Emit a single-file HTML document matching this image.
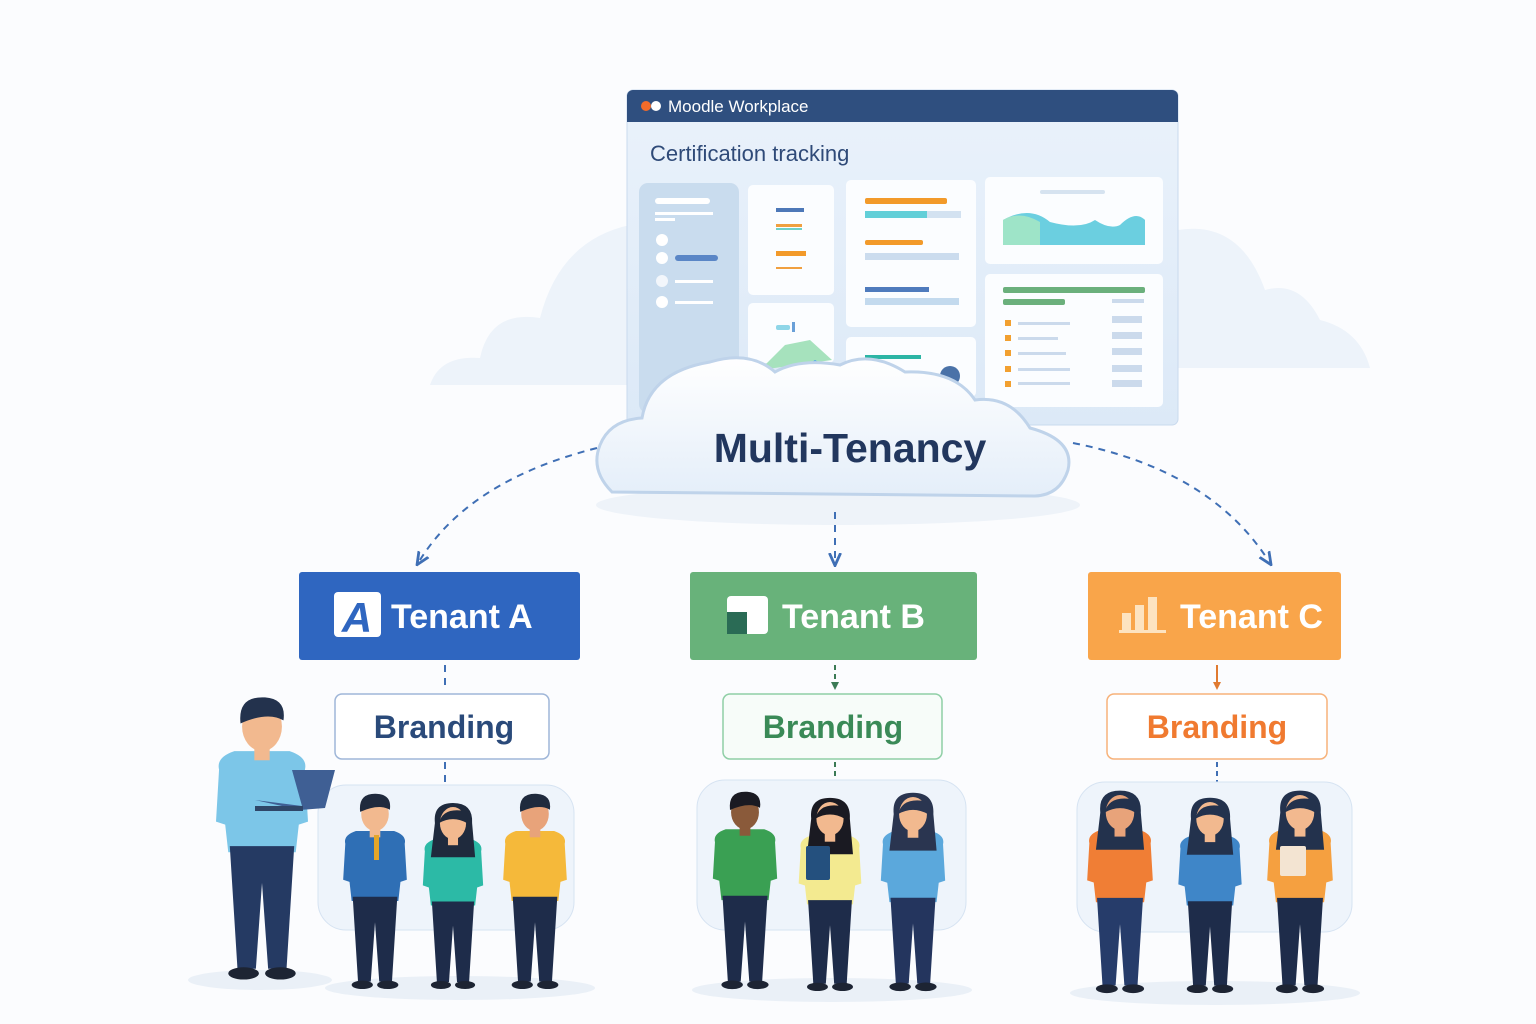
<!DOCTYPE html>
<html><head><meta charset="utf-8"><style>
html,body{margin:0;padding:0;background:#fbfcfe;}
svg{display:block;font-family:"Liberation Sans",sans-serif;}
</style></head><body>
<svg id="s" width="1536" height="1024" viewBox="0 0 1536 1024" xmlns="http://www.w3.org/2000/svg">
<defs>
<linearGradient id="cg" x1="0" y1="0" x2="0" y2="1"><stop offset="0" stop-color="#ffffff"/><stop offset="1" stop-color="#e4eef9"/></linearGradient>
<linearGradient id="bg2" x1="0" y1="0" x2="0" y2="1"><stop offset="0" stop-color="#eaf2fb"/><stop offset="1" stop-color="#dce9f7"/></linearGradient>
<marker id="ar" viewBox="0 0 10 10" refX="5" refY="5" markerWidth="7" markerHeight="7" orient="auto"><path d="M0,1 L9,5 L0,9" fill="none" stroke="#3f6fb5" stroke-width="2"/></marker>
<marker id="ag" viewBox="0 0 10 10" refX="5" refY="5" markerWidth="4" markerHeight="4" orient="auto"><path d="M0,0 L10,5 L0,10z" fill="#3b7a55"/></marker>
<marker id="ao" viewBox="0 0 10 10" refX="5" refY="5" markerWidth="4" markerHeight="4" orient="auto"><path d="M0,0 L10,5 L0,10z" fill="#e07a30"/></marker>
</defs>
<rect width="1536" height="1024" fill="#fbfcfe"/>
<!-- background clouds -->
<path d="M430,385 Q440,355 480,358 Q490,310 540,318 Q560,240 630,225 L630,385Z" fill="#edf3fa"/>
<path d="M1178,230 Q1240,220 1265,290 Q1300,280 1320,320 Q1360,330 1370,368 L1178,368Z" fill="#edf3fa"/>
<!-- dashboard -->
<rect x="627" y="90" width="551" height="335" rx="6" fill="url(#bg2)" stroke="#c9daee"/>
<path d="M627,122 V96 a6,6 0 0 1 6,-6 H1172 a6,6 0 0 1 6,6 V122Z" fill="#2f4f7f"/>
<circle cx="646" cy="106" r="5" fill="#f26b2a"/><circle cx="656" cy="106" r="5" fill="#fff"/>
<text x="668" y="112" fill="#fff" font-size="17">Moodle Workplace</text>
<text x="650" y="161" fill="#2f4a78" font-size="22">Certification tracking</text>
<rect x="639" y="183" width="100" height="230" rx="9" fill="#c9dcee"/>
<rect x="655" y="198" width="55" height="6" rx="3" fill="#fff"/><rect x="655" y="212" width="58" height="3" fill="#fff"/><rect x="655" y="218" width="20" height="3" fill="#fff"/>
<circle cx="662" cy="240" r="6" fill="#fff"/><circle cx="662" cy="258" r="6" fill="#fff"/><rect x="675" y="255" width="43" height="6" rx="3" fill="#5a86c6"/>
<circle cx="662" cy="281" r="6" fill="#f2f6fb"/><rect x="675" y="280" width="38" height="3" fill="#fff"/>
<circle cx="662" cy="302" r="6" fill="#fff"/><rect x="675" y="301" width="38" height="3" fill="#fff"/>
<rect x="748" y="185" width="86" height="110" rx="5" fill="#fbfdff"/>
<rect x="776" y="208" width="28" height="4" fill="#4d78b8"/><rect x="776" y="224" width="26" height="3" fill="#f0a040"/><rect x="776" y="228" width="26" height="2" fill="#6ed0c8"/>
<rect x="776" y="251" width="30" height="5" fill="#f29a2a"/><rect x="776" y="267" width="26" height="2" fill="#f0a040"/>
<rect x="748" y="303" width="86" height="60" rx="5" fill="#fbfdff"/>
<rect x="776" y="325" width="14" height="5" rx="2" fill="#8fd6e8"/><rect x="792" y="322" width="3" height="10" fill="#6aa0d8"/>
<path d="M760,370 L785,345 L810,340 L832,360Z" fill="#a6e2bd"/><path d="M770,375 L790,365 L800,370 L815,360 L832,370 L832,380 L775,380Z" fill="#4aa4ea"/>
<rect x="846" y="180" width="130" height="147" rx="5" fill="#fbfdff"/>
<rect x="865" y="198" width="82" height="6" rx="2" fill="#f29a2a"/><rect x="865" y="211" width="96" height="7" fill="#d3e2f1"/><rect x="865" y="211" width="62" height="7" fill="#62cfd8"/>
<rect x="865" y="240" width="58" height="5" rx="2" fill="#f29a2a"/><rect x="865" y="253" width="94" height="7" fill="#cbdcee"/>
<rect x="865" y="287" width="64" height="5" fill="#4f7bbd"/><rect x="865" y="298" width="94" height="7" fill="#c3daee"/>
<rect x="846" y="337" width="130" height="60" rx="5" fill="#fbfdff"/><rect x="865" y="355" width="56" height="4" fill="#2cb5a5"/>
<circle cx="950" cy="376" r="10" fill="#4a72a8"/>
<rect x="985" y="177" width="178" height="87" rx="5" fill="#fbfdff"/>
<path d="M1003,220 Q1030,205 1050,222 Q1080,230 1095,220 Q1110,230 1120,225 Q1135,210 1145,220 L1145,245 L1003,245Z" fill="#6bcfe0"/>
<path d="M1003,220 Q1020,210 1040,222 L1040,245 L1003,245Z" fill="#9ee4c8"/>
<rect x="1040" y="190" width="65" height="4" rx="2" fill="#d6e3f0"/>
<rect x="985" y="274" width="178" height="133" rx="5" fill="#fbfdff"/>
<rect x="1003" y="287" width="142" height="6" rx="2" fill="#6bb07c"/><rect x="1003" y="299" width="62" height="6" rx="2" fill="#6bb07c"/>
<g fill="#f2a030"><rect x="1005" y="320" width="6" height="6"/><rect x="1005" y="335" width="6" height="6"/><rect x="1005" y="350" width="6" height="6"/><rect x="1005" y="366" width="6" height="6"/><rect x="1005" y="381" width="6" height="6"/></g>
<g fill="#cbdaec"><rect x="1018" y="322" width="52" height="3"/><rect x="1018" y="337" width="40" height="3"/><rect x="1018" y="352" width="48" height="3"/><rect x="1018" y="368" width="52" height="3"/><rect x="1018" y="382" width="52" height="3"/>
<rect x="1112" y="299" width="32" height="4"/><rect x="1112" y="316" width="30" height="7"/><rect x="1112" y="332" width="30" height="7"/><rect x="1112" y="348" width="30" height="7"/><rect x="1112" y="365" width="30" height="7"/><rect x="1112" y="380" width="30" height="7"/></g>
<!-- main cloud -->
<ellipse cx="838" cy="505" rx="242" ry="20" fill="#eef3f9"/>
<path d="M612,492 Q590,470 600,445 Q610,420 642,418 Q650,372 710,362 Q750,350 775,372 Q800,358 840,365 Q870,350 905,372 Q955,370 975,400 Q1010,395 1030,428 Q1075,440 1068,470 Q1060,495 1035,496 Z" fill="url(#cg)" stroke="#bfd3ea" stroke-width="3"/>
<text x="850" y="462" text-anchor="middle" fill="#22375e" font-size="41" font-weight="bold">Multi-Tenancy</text>
<!-- connectors -->
<g fill="none" stroke="#3f6fb5" stroke-width="2" stroke-dasharray="7,6">
<path d="M597,448 Q470,480 420,560" marker-end="url(#ar)"/>
<path d="M1073,443 Q1210,470 1268,560" marker-end="url(#ar)"/>
<path d="M835,512 V560" marker-end="url(#ar)"/>
<path d="M445,665 V690"/><path d="M445,762 V788"/>
</g>
<path d="M835,665 V686" stroke="#3b7a55" stroke-width="2" stroke-dasharray="5,4" marker-end="url(#ag)"/>
<path d="M835,762 V788" stroke="#3b7a55" stroke-width="2" stroke-dasharray="5,4"/>
<path d="M1217,665 V686" stroke="#e07a30" stroke-width="2" marker-end="url(#ao)"/>
<path d="M1217,762 V788" stroke="#3f6fb5" stroke-width="2" stroke-dasharray="5,4"/>
<!-- tenants -->
<rect x="299" y="572" width="281" height="88" rx="3" fill="#2f66c0"/>
<rect x="334" y="592" width="47" height="45" rx="4" fill="#fff"/><text x="357" y="632" text-anchor="middle" fill="#2f66c0" font-size="42" font-weight="bold" font-style="italic">A</text>
<text x="391" y="628" fill="#fff" font-size="34" font-weight="bold">Tenant A</text>
<rect x="690" y="572" width="287" height="88" rx="3" fill="#68b27a"/>
<rect x="727" y="596" width="41" height="38" rx="4" fill="#fff"/><rect x="727" y="612" width="20" height="22" fill="#2a6b55"/>
<text x="782" y="628" fill="#fff" font-size="34" font-weight="bold">Tenant B</text>
<rect x="1088" y="572" width="253" height="88" rx="3" fill="#f9a54a"/>
<g fill="#fde3c0"><rect x="1122" y="613" width="9" height="18"/><rect x="1135" y="605" width="9" height="26"/><rect x="1148" y="597" width="9" height="34"/><rect x="1119" y="630" width="47" height="3"/></g>
<text x="1180" y="628" fill="#fff" font-size="34" font-weight="bold">Tenant C</text>
<!-- branding -->
<rect x="335" y="694" width="214" height="65" rx="7" fill="#fff" stroke="#9fb6d8" stroke-width="1.5"/>
<text x="444" y="738" text-anchor="middle" fill="#2a4a7a" font-size="32" font-weight="bold">Branding</text>
<rect x="723" y="694" width="219" height="65" rx="7" fill="#f7fcf9" stroke="#8fcfa6" stroke-width="1.5"/>
<text x="833" y="738" text-anchor="middle" fill="#3a8a57" font-size="32" font-weight="bold">Branding</text>
<rect x="1107" y="694" width="220" height="65" rx="7" fill="#fff" stroke="#f7b27a" stroke-width="1.5"/>
<text x="1217" y="738" text-anchor="middle" fill="#f07a30" font-size="32" font-weight="bold">Branding</text>
<!-- platforms -->
<ellipse cx="260" cy="980" rx="72" ry="10" fill="#eaf0f7"/>
<ellipse cx="460" cy="988" rx="135" ry="12" fill="#eaf0f7"/>
<ellipse cx="832" cy="990" rx="140" ry="12" fill="#eaf0f7"/>
<ellipse cx="1215" cy="993" rx="145" ry="12" fill="#eaf0f7"/>
<rect x="318" y="785" width="256" height="145" rx="28" fill="#eef4fb" stroke="#d6e3f2"/>
<rect x="697" y="780" width="269" height="150" rx="28" fill="#eef4fb" stroke="#d6e3f2"/>
<rect x="1077" y="782" width="275" height="150" rx="28" fill="#eef4fb" stroke="#d6e3f2"/>
<g id="people"></g>
</svg>
<script>
const g=document.getElementById('people');
function P(x,top,foot,shirt,pants,hair,skin,fem){
 const h=foot-top, s=h/180;
 let o='';
 const hy=top+16*s;
 const sh=top+36*s, hip=top+98*s;
 o+=`<path d="M${x-28*s},${sh+8*s} Q${x-30*s},${sh} ${x-18*s},${sh-4*s} L${x+18*s},${sh-4*s} Q${x+30*s},${sh} ${x+28*s},${sh+8*s} L${x+30*s},${hip-20*s} L${x+24*s},${hip-18*s} L${x+22*s},${hip} L${x-22*s},${hip} L${x-24*s},${hip-18*s} L${x-30*s},${hip-20*s}Z" fill="${shirt}"/>`;
 o+=`<path d="M${x-21*s},${hip-4*s} L${x+21*s},${hip-4*s} L${x+16*s},${foot-6*s} L${x+4*s},${foot-6*s} L${x},${hip+20*s} L${x-4*s},${foot-6*s} L${x-16*s},${foot-6*s}Z" fill="${pants}"/>`;
 o+=`<ellipse cx="${x-12*s}" cy="${foot-3*s}" rx="${10*s}" ry="${4*s}" fill="#1d2433"/><ellipse cx="${x+12*s}" cy="${foot-3*s}" rx="${10*s}" ry="${4*s}" fill="#1d2433"/>`;
 if(fem) o+=`<path d="M${x-18*s},${hy} Q${x-20*s},${top-4*s} ${x},${top-4*s} Q${x+20*s},${top-4*s} ${x+19*s},${hy} L${x+22*s},${sh+14*s} L${x-22*s},${sh+14*s}Z" fill="${hair}"/>`;
 o+=`<rect x="${x-5*s}" y="${hy+8*s}" width="${10*s}" height="${14*s}" fill="${skin}"/>`;
 o+=`<ellipse cx="${x}" cy="${hy}" rx="${13*s}" ry="${16*s}" fill="${skin}"/>`;
 if(!fem) o+=`<path d="M${x-14*s},${hy-2*s} Q${x-16*s},${top-4*s} ${x+2*s},${top-3*s} Q${x+16*s},${top-2*s} ${x+14*s},${hy-4*s} Q${x+4*s},${top+6*s} ${x-14*s},${hy-2*s}Z" fill="${hair}"/>`;
 else o+=`<path d="M${x-14*s},${hy} Q${x-10*s},${top} ${x+12*s},${top+4*s} Q${x+15*s},${hy-6*s} ${x+14*s},${hy}Q${x},${top+8*s} ${x-14*s},${hy}Z" fill="${hair}"/>`;
 g.innerHTML+=o;
}
P(262,702,978,'#7cc6e8','#253a63','#23324d','#f2b98f',false);
g.innerHTML+='<path d="M255,800 L302,806 L292,770 L335,770 L325,808 L300,810Z" fill="#3f5f94"/><rect x="255" y="806" width="48" height="5" fill="#2f4668"/>';
P(375,797,988,'#2f6fb5','#1e2c4a','#1f2a3d','#f2b98f',false);
g.innerHTML+='<rect x="374" y="835" width="5" height="25" fill="#e4a62a"/>';
P(453,807,988,'#2cbaa6','#1e2c4a','#1f2a3d','#f2b98f',true);
P(535,797,988,'#f5b93a','#1e2c4a','#1f2a3d','#e8a37a',false);
P(745,795,988,'#3aa053','#1e2c4a','#1a1a22','#8a5a3a',false);
P(830,802,990,'#f3ea90','#1e2c4a','#1a1a22','#f2b98f',true);
g.innerHTML+='<rect x="806" y="846" width="24" height="34" rx="2" fill="#24507e"/>';
P(913,797,990,'#5ba8dc','#24355e','#2a3550','#f2b98f',true);
P(1120,795,992,'#f07e35','#263c6a','#23324d','#e8a37a',true);
P(1210,802,992,'#3f86c8','#1e2c4a','#23324d','#f2b98f',true);
P(1300,795,992,'#f5a040','#1e2c4a','#23324d','#f2b98f',true);
g.innerHTML+='<rect x="1280" y="846" width="26" height="30" rx="2" fill="#f3e4d2"/>';
</script>
</body></html>
